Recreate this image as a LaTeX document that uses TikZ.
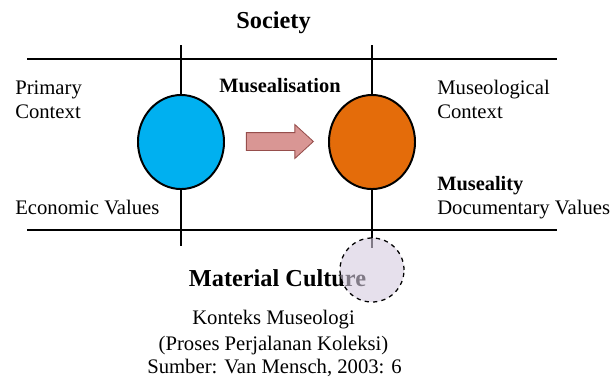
\documentclass[tikz,border=0pt]{standalone}
\usepackage{fontspec}
\setmainfont{Liberation Serif}
\usepackage{xcolor}
\usepackage{tikz}
\usetikzlibrary{shapes.arrows,shapes.geometric}
\definecolor{primary}{RGB}{0,176,240}
\definecolor{museum}{RGB}{228,108,10}
\definecolor{arrowfill}{RGB}{217,150,148}
\definecolor{arrowline}{RGB}{150,78,76}
\definecolor{lavender}{RGB}{214,204,224}

\begin{document}
\begin{tikzpicture}[
  x=0.025cm, y=-0.025cm,
  font=\fontsize{14.7}{18}\selectfont,
  obj/.style={draw, line width=1.4pt, ellipse, minimum width=2.15cm, minimum height=2.35cm, inner sep=0pt},
  txt/.style={anchor=base west, inner sep=0pt},
  ctr/.style={anchor=base, inner sep=0pt},
  header/.style={ctr, font=\fontsize{17.3}{20}\selectfont\bfseries},
  key/.style={font=\fontsize{14.5}{18}\selectfont\bfseries},
  axis/.style={line width=1.4pt}
]
\useasboundingbox (0,0) rectangle (611,376);

% frame of the two contexts
\coordinate (tl) at (27,59);
\coordinate (tr) at (557,59);
\coordinate (bl) at (27,230);
\coordinate (br) at (557,230);
\draw[line width=1pt] (tl) -- (tr);
\draw[line width=1pt] (bl) -- (br);

% vertical axes
\coordinate (la) at (181,45);
\coordinate (lb) at (181,246);
\coordinate (ra) at (372,45);
\coordinate (rb) at (372,248);
\draw[axis] (la) -- (lb);
\draw[axis] (ra) -- (rb);

% the two states of the object
\node[obj, fill=primary] (prim) at (181,142) {};
\node[obj, fill=museum] (muse) at (372,142) {};
\node[single arrow, draw=arrowline, fill=arrowfill, line width=0.6pt,
  minimum height=1.675cm, minimum width=0pt, inner xsep=0pt, inner ysep=0.2125cm,
  single arrow head extend=0.2cm, single arrow tip angle=85] (step1) at (275,141.5) {};

% labels
\node[header] (soc) at (273.5,28) {Society};
\node[ctr, key] (mus) at (280,92) {Musealisation};
\node[txt] (pc1) at (15,94) {Primary};
\node[txt] (pc2) at (15,118) {Context};
\node[txt] (ev) at (15,214) {Economic Values};
\node[txt] (mc1) at (437,94) {Museological};
\node[txt] (mc2) at (437,118) {Context};
\node[txt, key] (mty) at (437,190) {Museality};
\node[txt] (dv) at (437,214) {Documentary Values};
\node[header] (mcul) at (277.5,286) {Material Culture};
\node[ctr] (cap1) at (273.5,324) {Konteks Museologi};
\node[ctr] (cap2) at (273.5,350) {(Proses Perjalanan Koleksi)};
\node[ctr] (cap3) at (274.5,373) {Sumber: Van Mensch, 2003: 6};

% object in its material form, over the label
\node[draw, dashed, line width=0.9pt, circle, minimum size=1.6cm, fill=lavender,
  fill opacity=0.6, inner sep=0pt] (mat) at (372,270) {};
\end{tikzpicture}
\end{document}
